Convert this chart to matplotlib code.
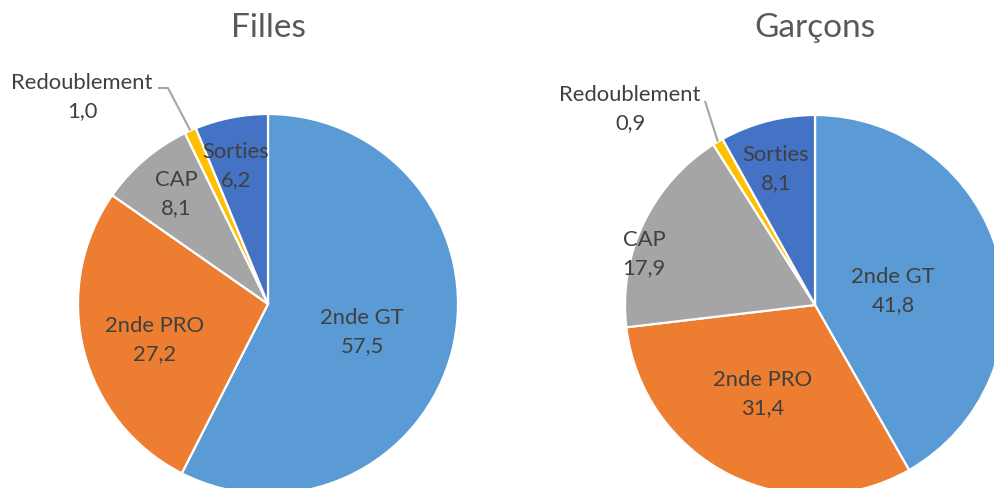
import numpy as np
import matplotlib.pyplot as plt

# data
categories = ['2nde GT', '2nde PRO', 'CAP', 'Redoublement', 'Sorties']
filles = [57.5, 27.2, 8.1, 1.0, 6.2]
garcons = [41.8, 31.4, 17.9, 0.9, 8.1]
titles = ['Filles', 'Garçons']
colors = ['#5B9BD5', '#ED7D31', '#A5A5A5', '#FFC000', '#4472C4']

# layout (pixels, y up)
W, H = 995, 488
RADIUS = 190
centers = [(268, 184), (815, 183)]
# label offsets from pie center, one per category
label_off = [
    [(94, -28), (-113, -36), (-92, 110), (-186, 207), (-32, 138)],
    [(78, 14), (-52, -89), (-171, 51), (-185, 196), (-39, 136)],
]
# leader line start points (relative to center) for the small slice
leader_pts = [
    [(-110, 216), (-100, 216)],
    [(-110, 204)],
]
SMALL = 3

plt.rcParams['font.family'] = ['Lato', 'DejaVu Sans']
fig = plt.figure(figsize=(W / 100, H / 100), dpi=100)
ax = fig.add_axes([0, 0, 1, 1])

for ii, vals in enumerate([filles, garcons]):
    cx, cy = centers[ii]
    wedges, _ = ax.pie(vals, colors=colors, startangle=90, counterclock=False,
                       center=(cx, cy), radius=RADIUS,
                       wedgeprops=dict(edgecolor='white', linewidth=1.6))
    for jj, w in enumerate(wedges):
        txt = '%s\n%s' % (categories[jj], ('%.1f' % vals[jj]).replace('.', ','))
        dx, dy = label_off[ii][jj]
        ax.text(cx + dx, cy + dy, txt, ha='center', va='center', fontsize=15.8,
                color='#404040', linespacing=1.5)
    # leader line for the thin slice
    w = wedges[SMALL]
    mid = np.deg2rad((w.theta1 + w.theta2) / 2)
    ex, ey = cx + RADIUS * np.cos(mid), cy + RADIUS * np.sin(mid)
    xs = [cx + p[0] for p in leader_pts[ii]] + [ex]
    ys = [cy + p[1] for p in leader_pts[ii]] + [ey]
    ax.plot(xs, ys, color='#A6A6A6', lw=1.5, solid_capstyle='butt')
    ax.text(cx, H - 37, titles[ii], ha='center', va='baseline', fontsize=24,
            color='#595959')

ax.set_xlim(0, W)
ax.set_ylim(0, H)
ax.set_aspect('auto')
ax.axis('off')

plt.savefig('out.png', dpi=100)
